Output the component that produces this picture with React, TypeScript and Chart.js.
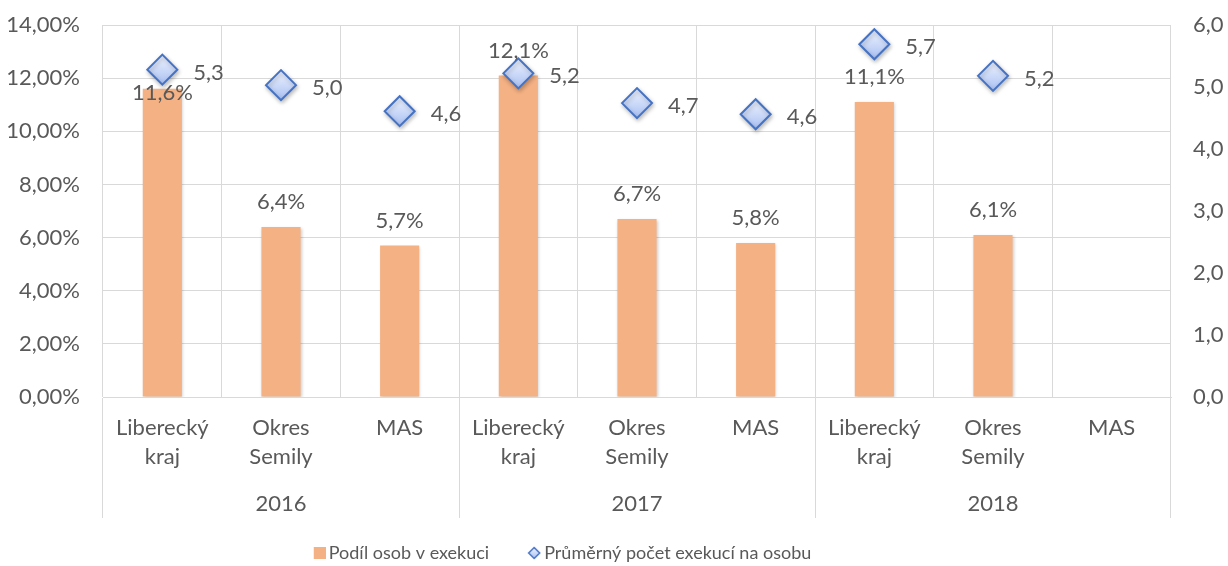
import React, { useEffect, useRef } from 'react';
import { Chart, registerables } from 'chart.js';

Chart.register(...registerables);

// ---- data ----
const categories: string[][] = [
  ['Liberecký', 'kraj'], ['Okres', 'Semily'], ['MAS'],
  ['Liberecký', 'kraj'], ['Okres', 'Semily'], ['MAS'],
  ['Liberecký', 'kraj'], ['Okres', 'Semily'], ['MAS'],
];
const years: string[] = ['2016', '2017', '2018'];
const shareValues: (number | null)[] = [11.6, 6.4, 5.7, 12.1, 6.7, 5.8, 11.1, 6.1, null];
const avgValues: (number | null)[] = [5.28, 5.03, 4.61, 5.22, 4.74, 4.56, 5.69, 5.18, null];
const seriesNames: string[] = ['Podíl osob v exekuci', 'Průměrný počet exekucí na osobu'];

// ---- styling ----
const FONT = 'Lato, "Open Sans", sans-serif';
const TEXT = '#595959';
const GRID = '#d9d9d9';
const BAR = '#F4B183';
const BLUE = '#4472C4';
const AXIS_SIZE = 22;
const LEGEND_SIZE = 18;
const LEGEND_BOX = 21;
const LEGEND_SHIFT = -59;
const barLabelShift: number[] = [29, 0, 0, 0, 0, 0, 0, 0, 0];

const fmt1 = (v: number) => v.toFixed(1).replace('.', ',');

export default function App() {
  const ref = useRef<HTMLCanvasElement>(null);

  useEffect(() => {
    document.body.style.margin = '0';
    const canvas = ref.current!;

    const diamondFill = (ctx: any) => {
      const el = ctx.element;
      const c = ctx.chart.ctx as CanvasRenderingContext2D;
      if (!el || typeof el.y !== 'number' || isNaN(el.y)) return '#c6d5f5';
      const g = c.createLinearGradient(0, el.y - 15, 0, el.y + 15);
      g.addColorStop(0, '#f0f4fe');
      g.addColorStop(1, '#a9c0f3');
      return g;
    };

    // legend markers: image wider than the box so the marker sits close to its text
    const imgW = LEGEND_BOX + 12;
    const sq = document.createElement('canvas');
    sq.width = imgW; sq.height = 12;
    const sctx = sq.getContext('2d')!;
    sctx.fillStyle = BAR;
    sctx.fillRect(imgW - 12, 0, 12, 12);
    const dm = document.createElement('canvas');
    dm.width = imgW; dm.height = 14;
    const dctx = dm.getContext('2d')!;
    const dg = dctx.createLinearGradient(0, 1, 0, 13);
    dg.addColorStop(0, '#f0f4fe');
    dg.addColorStop(1, '#a9c0f3');
    const cx = imgW - 7;
    dctx.beginPath();
    dctx.moveTo(cx, 1.5); dctx.lineTo(cx + 5.5, 7); dctx.lineTo(cx, 12.5); dctx.lineTo(cx - 5.5, 7); dctx.closePath();
    dctx.fillStyle = dg; dctx.fill();
    dctx.strokeStyle = BLUE; dctx.lineWidth = 1.5; dctx.stroke();

    const shadowPlugin = {
      id: 'shadows',
      beforeDatasetDraw(chart: any, args: any) {
        const c = chart.ctx;
        c.save();
        if (args.index === 0) {
          c.shadowColor = 'rgba(0,0,0,0.2)';
          c.shadowBlur = 3; c.shadowOffsetX = 1; c.shadowOffsetY = 1;
        } else {
          c.shadowColor = 'rgba(0,0,0,0.25)';
          c.shadowBlur = 4; c.shadowOffsetX = 1; c.shadowOffsetY = 2;
        }
      },
      afterDatasetDraw(chart: any) {
        chart.ctx.restore();
      },
    };

    const legendShiftPlugin = {
      id: 'legendShift',
      afterLayout(chart: any) {
        const l = chart.legend;
        if (l) { l.left += LEGEND_SHIFT; l.right += LEGEND_SHIFT; }
      },
    };

    const labelPlugin = {
      id: 'valueLabels',
      afterDatasetsDraw(chart: any) {
        const c = chart.ctx as CanvasRenderingContext2D;
        c.save();
        c.font = `${AXIS_SIZE}px ${FONT}`;
        c.fillStyle = TEXT;
        c.textBaseline = 'middle';
        c.textAlign = 'center';
        chart.getDatasetMeta(0).data.forEach((el: any, i: number) => {
          const v = shareValues[i];
          if (v == null) return;
          c.fillText(fmt1(v) + '%', el.x, el.y - 25 + (barLabelShift[i] || 0));
        });
        c.textAlign = 'left';
        chart.getDatasetMeta(1).data.forEach((el: any, i: number) => {
          const v = avgValues[i];
          if (v == null) return;
          c.fillText(fmt1(v), el.x + 31, el.y + 3);
        });
        c.restore();
      },
    };

    const chart = new Chart(canvas, {
      type: 'bar',
      data: {
        labels: categories,
        datasets: [
          {
            type: 'bar',
            label: seriesNames[0],
            data: shareValues,
            backgroundColor: BAR,
            barPercentage: 0.33,
            categoryPercentage: 1,
            yAxisID: 'y',
            xAxisID: 'x',
            order: 1,
          } as any,
          {
            type: 'line',
            label: seriesNames[1],
            data: avgValues,
            showLine: false,
            pointStyle: 'rectRot',
            pointRadius: 15,
            pointHoverRadius: 15,
            pointBorderWidth: 2,
            pointBorderColor: BLUE,
            pointBackgroundColor: diamondFill,
            borderColor: BLUE,
            backgroundColor: '#c6d5f5',
            yAxisID: 'y1',
            xAxisID: 'x',
            order: 0,
          } as any,
        ],
      },
      options: {
        responsive: false,
        animation: false,
        layout: { autoPadding: false, padding: { top: 25, left: 0, right: 0, bottom: -6 } },
        font: { family: FONT },
        color: TEXT,
        scales: {
          x: {
            type: 'category',
            position: 'bottom',
            weight: 0,
            offset: true,
            grid: {
              offset: true,
              color: GRID,
              lineWidth: 1,
              drawTicks: true,
              tickLength: 121,
              tickColor: (ctx: any) =>
                ctx.index === undefined || ctx.index % 3 === 0 ? GRID : 'rgba(0,0,0,0)',
            },
            border: { display: true, color: GRID },
            ticks: {
              autoSkip: false,
              maxRotation: 0,
              minRotation: 0,
              padding: -104.5,
              color: TEXT,
              font: { family: FONT, size: AXIS_SIZE, lineHeight: 1.318 },
            },
            afterFit: (s: any) => { s.height = 80; },
          },
          x2: {
            type: 'category',
            position: 'bottom',
            weight: 1,
            labels: years,
            offset: true,
            grid: { display: false },
            border: { display: false },
            ticks: {
              autoSkip: false,
              maxRotation: 0,
              padding: 4.5,
              color: TEXT,
              font: { family: FONT, size: AXIS_SIZE, lineHeight: 1.318 },
            },
            afterFit: (s: any) => { s.height = 42; },
          },
          y: {
            type: 'linear',
            position: 'left',
            min: 0,
            max: 14,
            grid: { color: GRID, drawTicks: true, tickLength: 23, tickColor: 'rgba(0,0,0,0)' },
            border: { display: false },
            ticks: {
              stepSize: 2,
              padding: 0,
              color: TEXT,
              font: { family: FONT, size: AXIS_SIZE },
              callback: (v: any) => Number(v).toFixed(2).replace('.', ',') + '%',
            },
            afterFit: (s: any) => { s.width = 103; },
          },
          y1: {
            type: 'linear',
            position: 'right',
            min: 0,
            max: 6,
            grid: { drawOnChartArea: false, drawTicks: true, tickLength: 22, tickColor: 'rgba(0,0,0,0)' },
            border: { display: false },
            ticks: {
              stepSize: 1,
              padding: 0,
              color: TEXT,
              font: { family: FONT, size: AXIS_SIZE },
              callback: (v: any) => Number(v).toFixed(1).replace('.', ','),
            },
            afterFit: (s: any) => { s.width = 57; },
          },
        },
        plugins: {
          tooltip: { enabled: false },
          legend: {
            position: 'bottom',
            labels: {
              usePointStyle: true,
              pointStyleWidth: LEGEND_BOX,
              boxWidth: LEGEND_BOX,
              padding: 25,
              color: TEXT,
              font: { family: FONT, size: LEGEND_SIZE },
              sort: (a: any, b: any) => a.datasetIndex - b.datasetIndex,
              generateLabels: (ch: any) => {
                const items = (Chart.defaults.plugins.legend.labels as any).generateLabels(ch);
                items.forEach((it: any) => {
                  it.pointStyle = it.datasetIndex === 0 ? sq : dm;
                  it.rotation = 0;
                });
                return items;
              },
            },
          },
        },
      } as any,
      plugins: [shadowPlugin, labelPlugin, legendShiftPlugin],
    });

    return () => chart.destroy();
  }, []);

  return (
    <div style={{ width: 1228, height: 566 }}>
      <canvas ref={ref} width={1228} height={566} style={{ display: 'block' }} />
    </div>
  );
}
